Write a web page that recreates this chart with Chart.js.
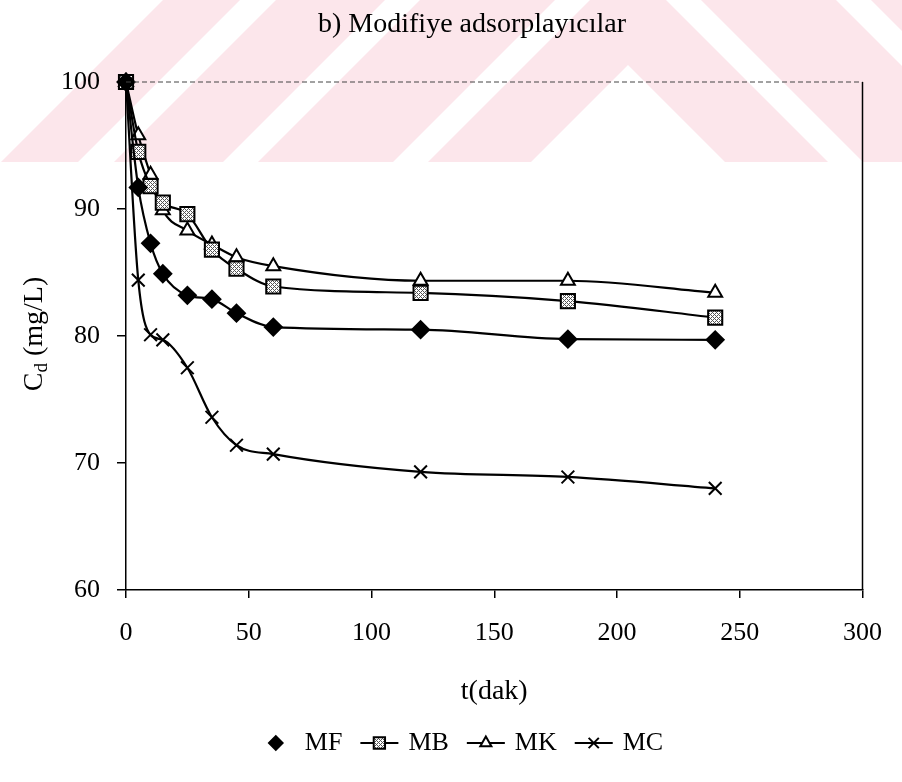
<!DOCTYPE html>
<html>
<head>
<meta charset="utf-8">
<title>Modifiye adsorplayıcılar</title>
<script src="https://cdn.jsdelivr.net/npm/chart.js@4.4.1/dist/chart.umd.min.js"></script>
<style>
  html, body { margin: 0; padding: 0; background: #fff; }
  #kutu { width: 902px; height: 782px; }
</style>
</head>
<body>
<div id="kutu"><canvas id="grafik" width="902" height="782"></canvas></div>
<script>
// zaman (dak) ve kalan derişim Cd (mg/L)
const zamanlar = [0, 5, 10, 15, 25, 35, 45, 60, 120, 180, 240];
const cdMF = [100, 91.7, 87.3, 84.9, 83.2, 82.9, 81.8, 80.7, 80.5, 79.75, 79.7];
const cdMB = [100, 94.5, 91.8, 90.5, 89.6, 86.8, 85.3, 83.9, 83.4, 82.75, 81.45];
const cdMK = [100, 95.8, 92.7, 89.9, 88.3, 87.2, 86.2, 85.5, 84.35, 84.35, 83.4];
const cdMC = [100, 84.4, 80.1, 79.7, 77.5, 73.6, 71.4, 70.7, 69.3, 68.9, 68.0];

const seriAdlari = ["MF", "MB", "MK", "MC"];
const lejantCizgisi = [false, true, true, true];

const xTikleri = [0, 50, 100, 150, 200, 250, 300];
const yTikleri = [60, 70, 80, 90, 100];

const baslik = "b) Modifiye adsorplayıcılar";
const xBasligi = "t(dak)";

const YAZI = '"Liberation Serif", "Times New Roman", serif';

function kareDeseni() {
  const c = document.createElement("canvas");
  c.width = 4;
  c.height = 4;
  const g = c.getContext("2d");
  g.fillStyle = "#fff";
  g.fillRect(0, 0, 4, 4);
  g.fillStyle = "#555";
  for (let i = 0; i < 4; i++) {
    for (let j = 0; j < 4; j++) {
      if ((i + j) % 4 === 0 || (i - j + 4) % 4 === 0) g.fillRect(i, j, 1, 1);
    }
  }
  return g.createPattern(c, "repeat");
}

function noktalar(degerler) {
  return zamanlar.map((t, i) => ({ x: t, y: degerler[i] }));
}

function seri(ad, degerler, stil, dolgu, yaricap) {
  return {
    label: ad,
    data: noktalar(degerler),
    borderColor: "#000",
    borderWidth: 2.2,
    pointStyle: stil,
    pointRadius: yaricap,
    pointHoverRadius: yaricap,
    pointBackgroundColor: dolgu,
    pointBorderColor: "#000",
    pointBorderWidth: 2,
    cubicInterpolationMode: "monotone",
    clip: false
  };
}

// üst bölgedeki açık pembe şerit deseni
function arkaPlanCiz(ctx) {
  const tepeX = 628;
  const bantlar = [[-38, 65], [-208, -73], [-352, -243], [-465, -388]];
  ctx.save();
  ctx.beginPath();
  ctx.rect(0, 0, 902, 162);
  ctx.clip();
  ctx.fillStyle = "#fce6eb";
  bantlar.forEach(([a, b]) => {
    ctx.beginPath();
    ctx.moveTo(0, a + tepeX);
    ctx.lineTo(tepeX, a);
    ctx.lineTo(902, a + (902 - tepeX));
    ctx.lineTo(902, b + (902 - tepeX));
    ctx.lineTo(tepeX, b);
    ctx.lineTo(0, b + tepeX);
    ctx.closePath();
    ctx.fill();
  });
  ctx.restore();
}

function yBasligiCiz(ctx) {
  ctx.save();
  ctx.translate(33, 334);
  ctx.rotate(-Math.PI / 2);
  ctx.fillStyle = "#000";
  ctx.textBaseline = "alphabetic";
  const buyuk = "28px " + YAZI;
  const kucuk = "19px " + YAZI;
  ctx.font = buyuk;
  const wC = ctx.measureText("C").width;
  const wKalan = ctx.measureText(" (mg/L)").width;
  ctx.font = kucuk;
  const wd = ctx.measureText("d").width;
  let x = -(wC + wd + wKalan) / 2;
  ctx.font = buyuk;
  ctx.fillText("C", x, 9);
  x += wC;
  ctx.font = kucuk;
  ctx.fillText("d", x, 14);
  x += wd;
  ctx.font = buyuk;
  ctx.fillText(" (mg/L)", x, 9);
  ctx.restore();
}

function lejantCiz(ctx, chart) {
  const sembolGen = 46, metinBosluk = 6, ogeBosluk = 14;
  const y = 743;
  ctx.save();
  ctx.font = "26px " + YAZI;
  let toplam = 0;
  chart.data.datasets.forEach((ds, i) => {
    toplam += sembolGen + metinBosluk + ctx.measureText(ds.label).width;
    if (i > 0) toplam += ogeBosluk;
  });
  let x = 458 - toplam / 2;
  chart.data.datasets.forEach((ds, i) => {
    if (lejantCizgisi[i]) {
      ctx.strokeStyle = "#000";
      ctx.lineWidth = 2;
      ctx.beginPath();
      ctx.moveTo(x + 4, y);
      ctx.lineTo(x + sembolGen - 4, y);
      ctx.stroke();
    }
    ctx.fillStyle = ds.pointBackgroundColor;
    ctx.strokeStyle = ds.pointBorderColor;
    ctx.lineWidth = ds.pointBorderWidth;
    Chart.helpers.drawPoint(ctx, {
      pointStyle: ds.pointStyle,
      rotation: 0,
      radius: ds.pointRadius * 0.8,
      borderWidth: ds.pointBorderWidth
    }, x + sembolGen / 2, y);
    x += sembolGen + metinBosluk;
    ctx.fillStyle = "#000";
    ctx.textBaseline = "middle";
    ctx.textAlign = "left";
    ctx.fillText(ds.label, x, y);
    x += ctx.measureText(ds.label).width + ogeBosluk;
  });
  ctx.restore();
}

const yazilar = {
  id: "yazilar",
  beforeDraw(chart) {
    arkaPlanCiz(chart.ctx);
  },
  afterDraw(chart) {
    const ctx = chart.ctx;
    const alan = chart.chartArea;

    // çizim alanının üst (kesikli) ve sağ kenarı
    ctx.save();
    ctx.strokeStyle = "#444";
    ctx.lineWidth = 1;
    ctx.setLineDash([5, 3]);
    ctx.beginPath();
    ctx.moveTo(alan.left, alan.top);
    ctx.lineTo(alan.right, alan.top);
    ctx.stroke();
    ctx.setLineDash([]);
    ctx.strokeStyle = "#000";
    ctx.lineWidth = 1.5;
    ctx.beginPath();
    ctx.moveTo(alan.right, alan.top);
    ctx.lineTo(alan.right, alan.bottom);
    ctx.stroke();

    ctx.fillStyle = "#000";
    ctx.textAlign = "center";
    ctx.textBaseline = "alphabetic";
    ctx.font = "28px " + YAZI;
    ctx.fillText(baslik, 472, 32);
    ctx.font = "28px " + YAZI;
    ctx.fillText(xBasligi, (alan.left + alan.right) / 2, 699);
    ctx.restore();

    yBasligiCiz(ctx);
    lejantCiz(ctx, chart);
  }
};

const desen = kareDeseni();

new Chart(document.getElementById("grafik"), {
  type: "line",
  data: {
    datasets: [
      seri(seriAdlari[0], cdMF, "rectRot", "#000", 8.5),
      seri(seriAdlari[1], cdMB, "rect", desen, 10),
      seri(seriAdlari[2], cdMK, "triangle", "#fff", 8),
      seri(seriAdlari[3], cdMC, "crossRot", "#000", 9)
    ]
  },
  options: {
    responsive: false,
    devicePixelRatio: 1,
    animation: false,
    layout: { padding: { top: 82, right: 28, bottom: 0, left: 0 } },
    plugins: {
      legend: { display: false },
      title: { display: false },
      tooltip: { enabled: false }
    },
    scales: {
      x: {
        type: "linear",
        min: xTikleri[0],
        max: xTikleri[xTikleri.length - 1],
        afterFit: s => { s.height = 192; },
        afterBuildTicks: s => { s.ticks = xTikleri.map(v => ({ value: v })); },
        ticks: { color: "#000", font: { family: YAZI, size: 26 }, padding: 20 },
        grid: { drawOnChartArea: false, drawTicks: true, tickLength: 8, color: "#000", lineWidth: 1.5 },
        border: { color: "#000", width: 1.5 }
      },
      y: {
        min: yTikleri[0],
        max: yTikleri[yTikleri.length - 1],
        afterFit: s => { s.width = 126; },
        afterBuildTicks: s => { s.ticks = yTikleri.map(v => ({ value: v })); },
        ticks: { color: "#000", font: { family: YAZI, size: 26 }, padding: 17 },
        grid: { drawOnChartArea: false, drawTicks: true, tickLength: 9, color: "#000", lineWidth: 1.5 },
        border: { color: "#000", width: 1.5 }
      }
    }
  },
  plugins: [yazilar]
});
</script>
</body>
</html>
